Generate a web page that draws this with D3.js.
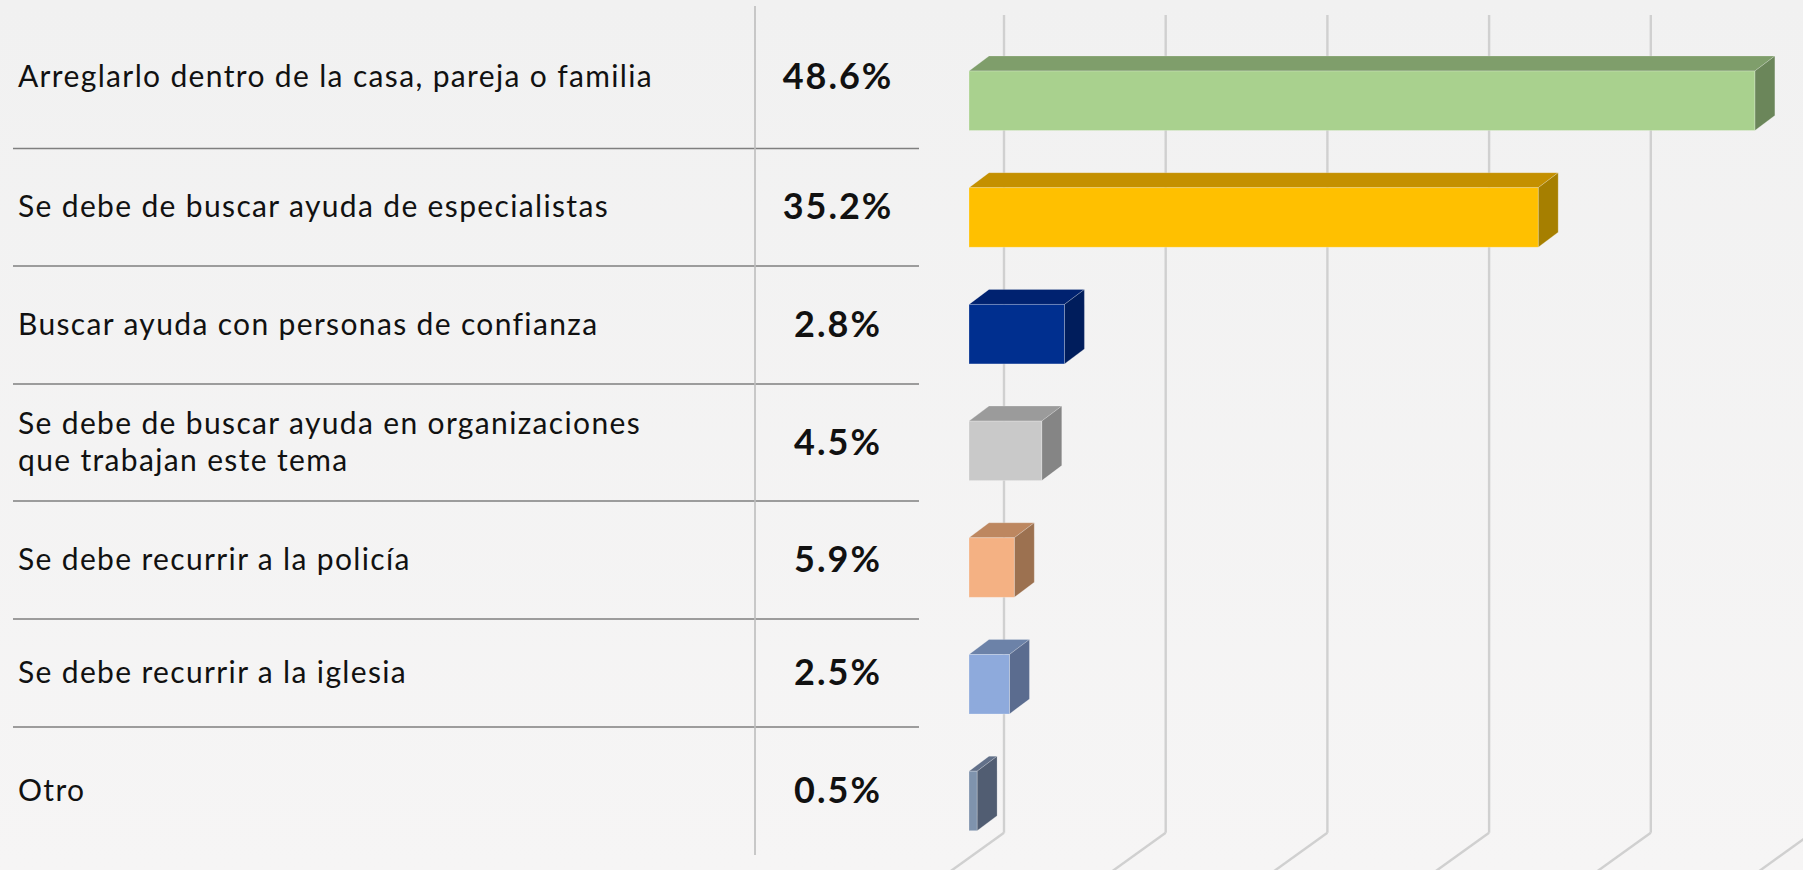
<!DOCTYPE html>
<html>
    <head>
        <meta charset="utf-8">
        <title>opinion bars</title>
        <style>
            html, body {
                margin: 0;
                padding: 0;
                overflow: hidden;
            }
            svg {
                display: block;
            }
            .label {
                font-family: Lato, 'Open Sans', sans-serif;
                font-size: 30px;
                letter-spacing: 1.35px;
                fill: #111;
            }
            .pct {
                font-family: Lato, 'Open Sans', sans-serif;
                font-weight: bold;
                font-size: 36px;
                letter-spacing: 2px;
                fill: #111;
            }
        </style>
        <script src="https://cdn.jsdelivr.net/npm/d3@7"></script>
    </head>
    <body>
    <svg id='main'></svg>
    <script>

        // categories, in table order
        let categories = [
            'Arreglarlo dentro de la casa, pareja o familia',
            'Se debe de buscar ayuda de especialistas',
            'Buscar ayuda con personas de confianza',
            'Se debe de buscar ayuda en organizaciones\nque trabajan este tema',
            'Se debe recurrir a la policía',
            'Se debe recurrir a la iglesia',
            'Otro'
        ];
        // percentages as written in the table
        let pctValues = [48.6, 35.2, 2.8, 4.5, 5.9, 2.5, 0.5];
        // bar lengths as drawn (the source bars are not in table order)
        let barValues = [48.6, 35.2, 5.9, 4.5, 2.8, 2.5, 0.5];
        let gridTicks = [0, 10, 20, 30, 40, 50];

        // front / top / side colours for each bar
        let barFront = ['#a9d18e', '#ffc000', '#002f8f', '#c9c9c9', '#f4b183', '#8eaadc', '#7f93ad'];
        let barTop   = ['#7f9e6b', '#c49000', '#002270', '#9b9b9b', '#bd8760', '#6c82a8', '#627089'];
        let barSide  = ['#6b865a', '#a67f00', '#001d5c', '#858585', '#9c7150', '#5b6c8f', '#515d72'];

        const W = 1803, H = 870;
        let svg = d3.select('svg#main')
            .attr('width', W)
            .attr('height', H);

        // background
        let defs = svg.append('defs');
        let grad = defs.append('linearGradient')
            .attr('id', 'bg')
            .attr('x1', 0).attr('y1', 0)
            .attr('x2', 0).attr('y2', 1);
        grad.append('stop').attr('offset', '0%').attr('stop-color', '#f1f1f1');
        grad.append('stop').attr('offset', '100%').attr('stop-color', '#f6f5f5');
        svg.append('rect')
            .attr('width', W).attr('height', H)
            .attr('fill', 'url(#bg)');

        // ---- table on the left ----
        let rowEdges = [6, 148.5, 266, 384, 501, 619, 727, 855];
        let rowCenter = i => (rowEdges[i] + rowEdges[i + 1]) / 2 - 1;

        let table = svg.append('g').attr('class', 'table');

        table.selectAll('line.sep')
            .data(rowEdges.slice(1, -1))
            .enter()
            .append('line')
                .attr('class', 'sep')
                .attr('x1', 13).attr('x2', 919)
                .attr('y1', d => d).attr('y2', d => d)
                .attr('stroke', '#7f7f7f')
                .attr('stroke-width', 1.6);

        table.append('line')
            .attr('x1', 755).attr('x2', 755)
            .attr('y1', rowEdges[0]).attr('y2', rowEdges[rowEdges.length - 1])
            .attr('stroke', '#bdbdbd')
            .attr('stroke-width', 1.6);

        let labels = table.selectAll('text.label')
            .data(categories)
            .enter()
            .append('text')
                .attr('class', 'label')
                .attr('x', 18)
                .attr('y', (d, i) => {
                    let lines = d.split('\n').length;
                    return rowCenter(i) + 10.8 - (lines - 1) * 37 / 2;
                });
        labels.selectAll('tspan')
            .data(d => d.split('\n'))
            .enter()
            .append('tspan')
                .attr('x', 18)
                .attr('dy', (d, i) => i === 0 ? 0 : 37)
                .text(d => d);

        let fmt = d3.format('.1f');
        table.selectAll('text.pct')
            .data(pctValues)
            .enter()
            .append('text')
                .attr('class', 'pct')
                .attr('x', 838)
                .attr('y', (d, i) => rowCenter(i) + 13)
                .attr('text-anchor', 'middle')
                .text(d => fmt(d) + '%');

        // ---- 3d bars on the right ----
        let x = d3.scaleLinear()
            .domain([0, 50])
            .range([969, 969 + 808.5]);
        let y = d3.scaleBand()
            .domain(d3.range(barValues.length))
            .range([42.4, 859.3])
            .paddingInner(0.49)
            .paddingOuter(0.245);

        const depthX = 20, depthY = 15;      // bar depth
        const wallX = 35, wallY = 26.25;     // back wall offset from bar front
        const wallTop = 15, wallBottom = 832.7;

        let grid = svg.append('g').attr('class', 'grid');
        grid.selectAll('line.v')
            .data(gridTicks)
            .enter()
            .append('line')
                .attr('x1', d => x(d) + wallX).attr('x2', d => x(d) + wallX)
                .attr('y1', wallTop).attr('y2', wallBottom)
                .attr('stroke', '#d0d0d0')
                .attr('stroke-width', 2.4);
        grid.selectAll('line.f')
            .data(gridTicks)
            .enter()
            .append('line')
                .attr('x1', d => x(d) + wallX).attr('y1', wallBottom)
                .attr('x2', d => x(d) + wallX - 80).attr('y2', wallBottom + 80 * 0.72)
                .attr('stroke', '#d0d0d0')
                .attr('stroke-width', 2.4);

        let bars = svg.append('g').attr('class', 'bars')
            .selectAll('g.bar')
            .data(barValues)
            .enter()
            .append('g')
            .attr('class', 'bar');

        let x0 = x(0);
        let bh = y.bandwidth();

        // top face
        bars.append('path')
            .attr('d', (d, i) => {
                let t = y(i), x1 = x(d);
                return 'M' + x0 + ',' + t +
                    'L' + (x0 + depthX) + ',' + (t - depthY) +
                    'L' + (x1 + depthX) + ',' + (t - depthY) +
                    'L' + x1 + ',' + t + 'Z';
            })
            .attr('fill', (d, i) => barTop[i])
            .attr('stroke', 'rgba(255,255,255,0.25)')
            .attr('stroke-width', 0.8);

        // side face
        bars.append('path')
            .attr('d', (d, i) => {
                let t = y(i), x1 = x(d);
                return 'M' + x1 + ',' + t +
                    'L' + (x1 + depthX) + ',' + (t - depthY) +
                    'L' + (x1 + depthX) + ',' + (t - depthY + bh) +
                    'L' + x1 + ',' + (t + bh) + 'Z';
            })
            .attr('fill', (d, i) => barSide[i])
            .attr('stroke', 'rgba(255,255,255,0.25)')
            .attr('stroke-width', 0.8);

        // front face
        bars.append('rect')
            .attr('x', x0)
            .attr('y', (d, i) => y(i))
            .attr('width', d => x(d) - x0)
            .attr('height', bh)
            .attr('fill', (d, i) => barFront[i])
            .attr('stroke', 'rgba(255,255,255,0.3)')
            .attr('stroke-width', 0.8);

    </script>
    </body>
</html>
